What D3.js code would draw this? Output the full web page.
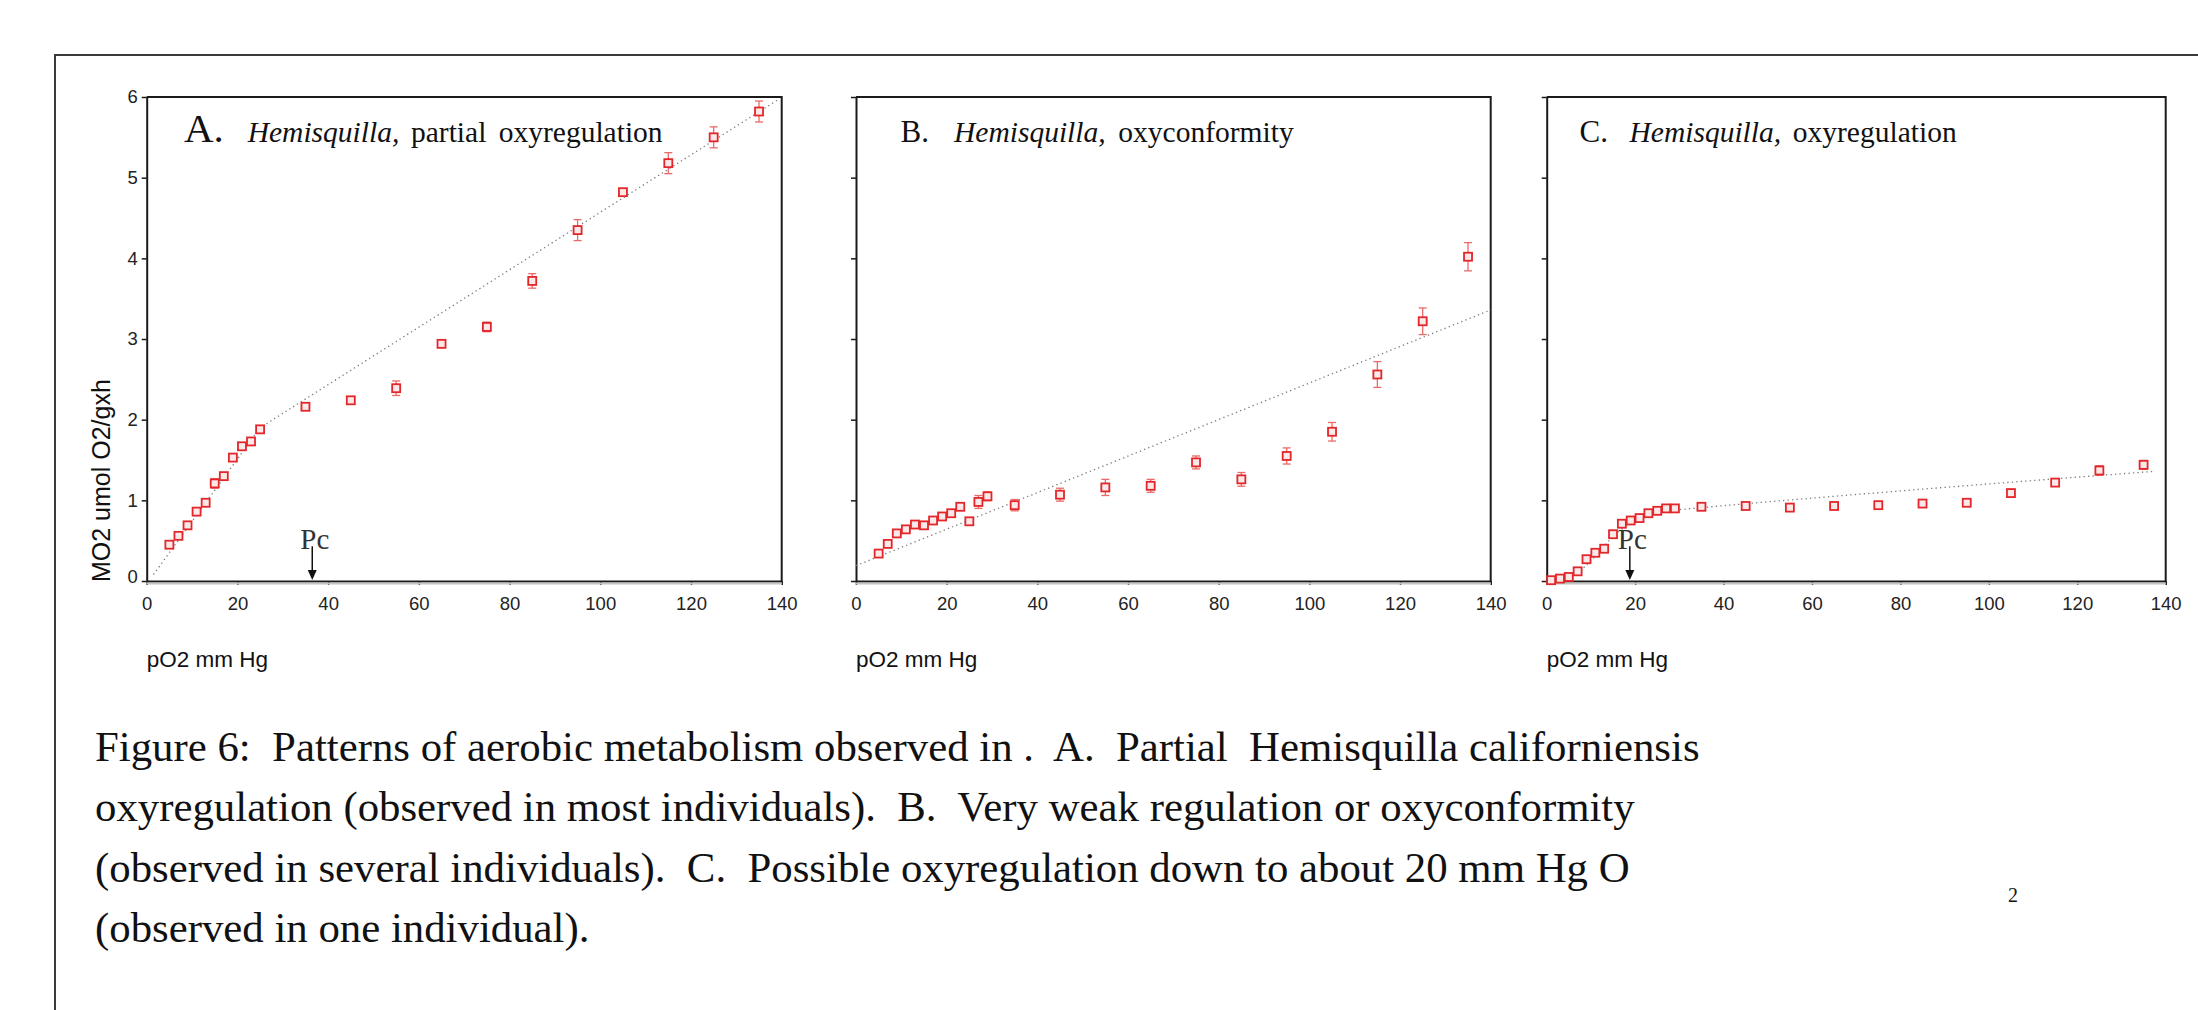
<!DOCTYPE html>
<html>
<head>
<meta charset="utf-8">
<script src="https://cdn.jsdelivr.net/npm/d3@7"></script>
<style>
  body { margin: 0; background: #fff; }
  svg { display: block; }
</style>
</head>
<body>
<div id="chart"></div>
<script>
// values
const xTicks = [0, 20, 40, 60, 80, 100, 120, 140];
const yTicks = [0, 1, 2, 3, 4, 5, 6];

// A. partial oxyregulation
const pO2A = [5, 7, 9, 11, 13, 15, 17, 19, 21, 23, 25, 35, 45, 55, 65, 75, 85, 95, 105, 115, 125, 135];
const mo2A = [0.45, 0.56, 0.69, 0.86, 0.97, 1.21, 1.30, 1.53, 1.67, 1.73, 1.88, 2.16, 2.24, 2.39, 2.94, 3.15, 3.72, 4.35, 4.82, 5.18, 5.50, 5.82];
const errA = [0.03, 0.03, 0.03, 0.04, 0.03, 0.06, 0.03, 0.03, 0.03, 0.03, 0.03, 0.03, 0.03, 0.09, 0.03, 0.06, 0.09, 0.13, 0.04, 0.13, 0.13, 0.13];
const fitAx = [1.5, 25, 139.3];
const fitAy = [0.08, 1.9, 5.97];

// B. oxyconformity
const pO2B = [5, 7, 9, 11, 13, 15, 17, 19, 21, 23, 25, 27, 29, 35, 45, 55, 65, 75, 85, 95, 105, 115, 125, 135];
const mo2B = [0.34, 0.46, 0.59, 0.64, 0.70, 0.69, 0.75, 0.80, 0.84, 0.92, 0.74, 0.98, 1.05, 0.94, 1.07, 1.16, 1.18, 1.47, 1.26, 1.55, 1.85, 2.56, 3.22, 4.02];
const errB = [0.03, 0.03, 0.03, 0.03, 0.03, 0.03, 0.03, 0.03, 0.04, 0.04, 0.03, 0.08, 0.055, 0.07, 0.08, 0.10, 0.08, 0.08, 0.085, 0.10, 0.115, 0.16, 0.165, 0.175];
const fitBx = [0, 140];
const fitBy = [0.19, 3.36];

// C. oxyregulation
const pO2C = [1, 3, 5, 7, 9, 11, 13, 15, 17, 19, 21, 23, 25, 27, 29, 35, 45, 55, 65, 75, 85, 95, 105, 115, 125, 135];
const mo2C = [0.01, 0.03, 0.05, 0.12, 0.27, 0.35, 0.40, 0.58, 0.71, 0.75, 0.78, 0.84, 0.87, 0.90, 0.90, 0.92, 0.93, 0.91, 0.93, 0.94, 0.96, 0.97, 1.09, 1.22, 1.37, 1.44];
const errC = [0.02, 0.02, 0.02, 0.03, 0.02, 0.02, 0.02, 0.03, 0.03, 0.02, 0.02, 0.03, 0.03, 0.03, 0.03, 0.03, 0.03, 0.02, 0.02, 0.03, 0.02, 0.03, 0.02, 0.02, 0.06, 0.055];
const fitCx = [0, 5, 10, 15, 20, 25, 29, 137.5];
const fitCy = [0, 0.04, 0.25, 0.55, 0.76, 0.86, 0.88, 1.36];

// critical pO2 (Pc) marks
const pcA = 36.5;
const pcC = 18.8;

const caption = [
  "Figure 6:  Patterns of aerobic metabolism observed in .  A.  Partial  Hemisquilla californiensis",
  "oxyregulation (observed in most individuals).  B.  Very weak regulation or oxyconformity",
  "(observed in several individuals).  C.  Possible oxyregulation down to about 20 mm Hg O",
  "(observed in one individual)."
];

const W = 2198, H = 1010;
const plotTop = 97, plotBottom = 581;
const red = "#e3262a", errRed = "#ea6a6a";
const sans = "'Liberation Sans', Arial, sans-serif";
const serif = "'Liberation Serif', 'Times New Roman', serif";

const svg = d3.select("#chart").append("svg")
  .attr("width", W)
  .attr("height", H)
  .style("background", "#fff");

// page frame
svg.append("path")
  .attr("d", `M55,${H} V55 H${W}`)
  .attr("fill", "none")
  .attr("stroke", "#3a3a3a")
  .attr("stroke-width", 2);

const yScale = d3.scaleLinear().domain([0, 6]).range([plotBottom, plotTop]);

function drawPanel(p) {
  const x = d3.scaleLinear().domain([0, 140]).range([p.left, p.right]);
  const g = svg.append("g");

  // axes
  const gx = g.append("g")
    .attr("transform", `translate(0,${plotBottom})`)
    .call(d3.axisBottom(x).tickValues(xTicks).tickSize(4).tickPadding(12).tickSizeOuter(0));
  const gy = g.append("g")
    .attr("transform", `translate(${p.left},0)`)
    .call(d3.axisLeft(yScale).tickValues(yTicks).tickSize(5).tickPadding(4).tickSizeOuter(0)
      .tickFormat(p.yLabels ? d3.format("d") : () => ""));
  [gx, gy].forEach((a) => {
    a.selectAll("path").attr("stroke", "#1a1a1a").attr("stroke-width", 2);
    a.selectAll("line").attr("stroke", "#1a1a1a").attr("stroke-width", 1.5);
    a.selectAll("text").style("font-family", sans).style("font-size", "18.5px").attr("fill", "#222");
  });
  // the 0 label sits a little above the axis
  gy.selectAll(".tick text").filter((d) => d === 0).attr("y", -4);

  // top and right border
  g.append("path")
    .attr("d", `M${p.left},${plotTop} H${p.right} V${plotBottom}`)
    .attr("fill", "none")
    .attr("stroke", "#1a1a1a")
    .attr("stroke-width", 2);
  // faint shadow under the x axis
  g.append("line")
    .attr("x1", p.left).attr("x2", p.right)
    .attr("y1", plotBottom + 2.5).attr("y2", plotBottom + 2.5)
    .attr("stroke", "#c4c4c4").attr("stroke-width", 2);

  // fitted dotted line
  const fit = p.fitX.map((v, i) => [v, p.fitY[i]]);
  g.append("path")
    .datum(fit)
    .attr("fill", "none")
    .attr("stroke", "#7a7a7a")
    .attr("stroke-width", 1.3)
    .attr("stroke-dasharray", "1.3,3.2")
    .attr("d", d3.line().x((d) => x(d[0])).y((d) => yScale(d[1])).curve(p.curve));

  const pts = p.px.map((v, i) => ({ x: v, y: p.py[i], e: p.err[i] }));

  // error bars
  const eb = g.append("g").attr("stroke", errRed).attr("stroke-width", 1.3);
  pts.forEach((d) => {
    const cx = x(d.x), y1 = yScale(d.y + d.e), y2 = yScale(d.y - d.e);
    eb.append("line").attr("x1", cx).attr("x2", cx).attr("y1", y1).attr("y2", y2);
    eb.append("line").attr("x1", cx - 4).attr("x2", cx + 4).attr("y1", y1).attr("y2", y1);
    eb.append("line").attr("x1", cx - 4).attr("x2", cx + 4).attr("y1", y2).attr("y2", y2);
  });

  // open square markers
  g.selectAll("rect.pt")
    .data(pts)
    .enter()
    .append("rect")
    .attr("class", "pt")
    .attr("x", (d) => x(d.x) - 4)
    .attr("y", (d) => yScale(d.y) - 4)
    .attr("width", 8)
    .attr("height", 8)
    .attr("fill", "#fbe9e9")
    .attr("stroke", red)
    .attr("stroke-width", 1.8);

  // panel title
  const t = g.append("text")
    .attr("y", 142)
    .style("font-family", serif)
    .attr("fill", "#111");
  t.append("tspan").attr("x", p.left + p.t1).style("font-size", p.letterSize + "px").text(p.letter);
  t.append("tspan").attr("x", p.left + p.t2).style("font-size", "29.5px").style("font-style", "italic").text("Hemisquilla,");
  t.append("tspan").attr("x", p.left + p.t3).style("font-size", "29.5px").style("word-spacing", "5px").text(p.rest);

  // x axis title
  g.append("text")
    .attr("x", p.left)
    .attr("y", 667)
    .style("font-family", sans)
    .style("font-size", "22.5px")
    .attr("fill", "#111")
    .text("pO2 mm Hg");

  // Pc arrow
  if (p.pc !== undefined) {
    const ax = x(p.pc);
    g.append("text")
      .attr("x", ax - 12)
      .attr("y", yScale(0.40))
      .style("font-family", serif)
      .style("font-size", "29px")
      .attr("fill", "#333")
      .text("Pc");
    g.append("line")
      .attr("x1", ax).attr("x2", ax)
      .attr("y1", yScale(0.43)).attr("y2", plotBottom - 8)
      .attr("stroke", "#111").attr("stroke-width", 1.5);
    g.append("path")
      .attr("d", `M${ax - 4.5},${plotBottom - 11} L${ax + 4.5},${plotBottom - 11} L${ax},${plotBottom - 1} Z`)
      .attr("fill", "#111");
  }
}

drawPanel({
  left: 146.7, right: 781.7, yLabels: true,
  px: pO2A, py: mo2A, err: errA, fitX: fitAx, fitY: fitAy, curve: d3.curveLinear,
  letter: "A.", letterSize: 41, rest: "partial oxyregulation",
  t1: 37.3, t2: 101, t3: 264.3, pc: pcA
});
drawPanel({
  left: 856, right: 1490.7, yLabels: false,
  px: pO2B, py: mo2B, err: errB, fitX: fitBx, fitY: fitBy, curve: d3.curveLinear,
  letter: "B.", letterSize: 31, rest: "oxyconformity",
  t1: 44.5, t2: 98, t3: 262.3
});
drawPanel({
  left: 1546.7, right: 2165.7, yLabels: false,
  px: pO2C, py: mo2C, err: errC, fitX: fitCx, fitY: fitCy, curve: d3.curveMonotoneX,
  letter: "C.", letterSize: 31, rest: "oxyregulation",
  t1: 32.9, t2: 82.8, t3: 246.1, pc: pcC
});

// y axis title of panel A
svg.append("text")
  .attr("transform", "translate(110,582) rotate(-90)")
  .style("font-family", sans)
  .style("font-size", "25px")
  .attr("fill", "#111")
  .text("MO2 umol O2/gxh");

// caption
svg.append("g")
  .selectAll("text")
  .data(caption)
  .enter()
  .append("text")
  .attr("x", 95)
  .attr("y", (d, i) => 761 + i * 60.3)
  .attr("xml:space", "preserve")
  .style("white-space", "pre")
  .style("font-family", serif)
  .style("font-size", "42.8px")
  .attr("fill", "#111")
  .text((d) => d);

// page number
svg.append("text")
  .attr("x", 2008)
  .attr("y", 902)
  .style("font-family", serif)
  .style("font-size", "20px")
  .attr("fill", "#111")
  .text("2");
</script>
</body>
</html>
